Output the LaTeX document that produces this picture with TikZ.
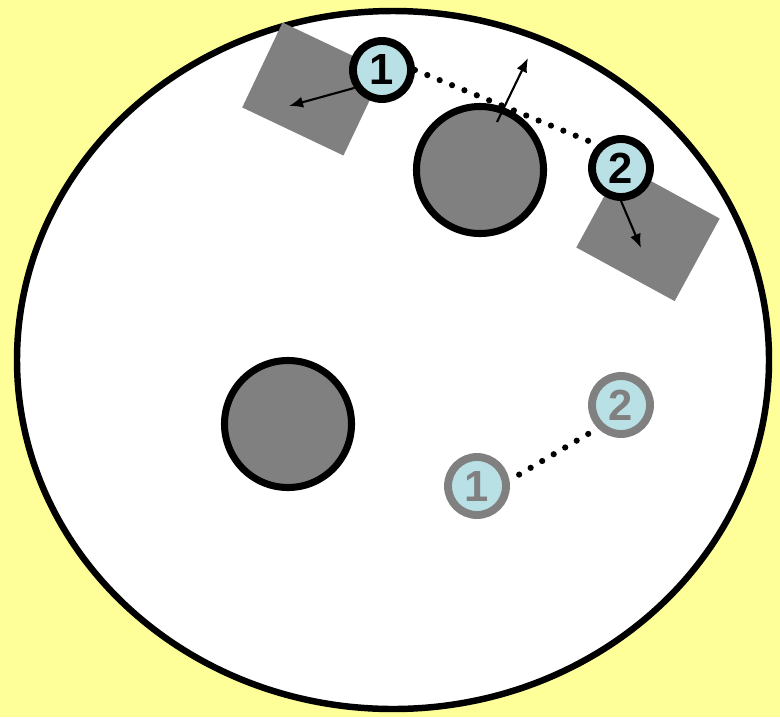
\documentclass[tikz,border=0pt]{standalone}
\usepackage{fontspec}
\setmainfont{Liberation Sans}
\usetikzlibrary{arrows.meta}
\begin{document}
\begin{tikzpicture}[x=0.025cm, y=-0.025cm]
  \definecolor{pagebg}{RGB}{255,255,153}
  \definecolor{discbg}{RGB}{185,224,228}
  \tikzstyle{obst}=[circle, draw=black, line width=5pt, fill=gray, minimum size=3.175cm, inner sep=0pt]
  \tikzstyle{block}=[draw=none, fill=gray, minimum width=2.8cm, minimum height=2.35cm, inner sep=0pt]
  \tikzstyle{disc}=[circle, draw=black, line width=5.6pt, fill=discbg, minimum size=1.45cm, inner sep=0pt, font=\fontsize{31}{33}\selectfont\bfseries]
  \tikzstyle{ghost}=[disc, draw=gray, text=gray]
  \tikzstyle{arr}=[-{Latex[length=10pt,width=8pt]}, line width=1.5pt]
  \tikzstyle{link}=[line width=4.4pt, line cap=round, dash pattern=on 0pt off 9.5pt]

  % Fundo da pagina e a arena eliptica, em pixels da imagem (y para baixo).
  \fill[pagebg] (0,0) rectangle (780,717);
  \draw[line width=4.6pt, fill=white] (393,360) ellipse [x radius=376, y radius=349];

  % Obstaculos redondos
  \node[obst] (obsttop) at (480,170) {};
  \node[obst] (obstleft) at (288,424) {};

  % Blocos girados, um para cada robo
  \node[block, rotate=-25.4] (blockone) at (313,89) {};
  \node[block, rotate=-28.6] (blocktwo) at (648,233) {};

  % Pontas livres das setas
  \coordinate (tipone) at (289,106);
  \coordinate (tiptwo) at (641,248);
  \coordinate (pushtail) at (497,122);
  \coordinate (pushtip) at (528,58);

  % Robos na posicao atual
  \node[disc] (robone) at (382,70) {1};
  \node[disc] (robtwo) at (621,168) {2};

  \draw[arr] (robone.213) -- (tipone);
  \draw[arr] (robtwo.south) -- (tiptwo);
  \draw[link] (robone.east) -- (robtwo.north west);

  % Robos na posicao antiga, em cinza
  \node[ghost] (oldone) at (477,486) {1};
  \node[ghost] (oldtwo) at (621,405) {2};
  \draw[link, shorten <=8pt] (oldone.10) -- (oldtwo.south west);

  % Empurrao no obstaculo de cima
  \draw[arr] (pushtail) -- (pushtip);
\end{tikzpicture}
\end{document}
